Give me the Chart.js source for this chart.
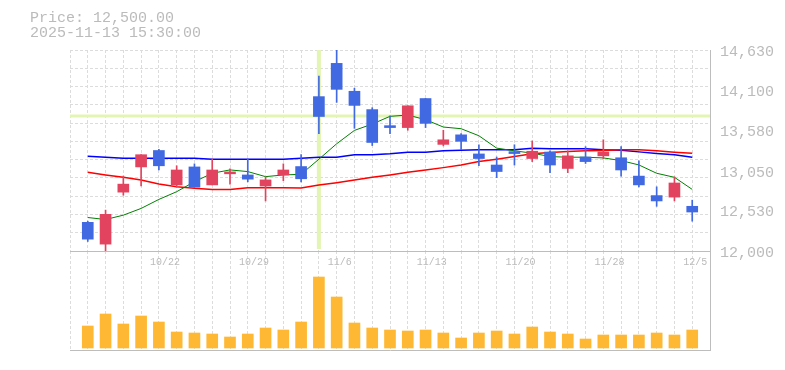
<!DOCTYPE html>
<html>
<head>
<meta charset="utf-8">
<script src="https://cdn.jsdelivr.net/npm/chart.js@4/dist/chart.umd.min.js"></script>
<style>
  body { margin: 0; background: #fff; }
  #wrap { position: relative; width: 785px; height: 370px; }
  #info { position: absolute; left: 30px; top: 11px; font: 15px/15px "Liberation Mono", monospace; color: #bbb; white-space: pre; }
  #price { position: absolute; left: 0; top: 0; }
  #volume { position: absolute; left: 0; top: 251px; }
</style>
</head>
<body>
<div id="wrap">
  <canvas id="volume" width="785" height="100"></canvas>
  <canvas id="price" width="785" height="270"></canvas>
  <div id="info"></div>
</div>
<script>
// trading days shown on the chart
const dates = ['10/16','10/17','10/20','10/21','10/22','10/23','10/24','10/27','10/28','10/29',
  '10/30','10/31','11/4','11/5','11/6','11/7','11/10','11/11','11/12','11/13',
  '11/14','11/17','11/18','11/19','11/20','11/21','11/25','11/26','11/27','11/28',
  '12/1','12/2','12/3','12/4','12/5'];

const opens  = [12375,12090,12770,13100,13315,12865,13100,12865,13010,12995,
  12850,12995,13105,14020,14455,14090,13850,13640,13615,13995,
  13395,13520,13270,13125,13300,13210,13295,13080,13230,13245,
  13220,12980,12725,12705,12585];
const highs  = [12390,12535,12980,13260,13330,13115,13140,13205,13075,13205,
  12970,13140,13260,14290,14630,14130,13875,13770,13900,13995,
  13580,13535,13390,13230,13390,13440,13310,13310,13365,13455,
  13365,13180,12840,12970,12665];
const lows   = [12125,12000,12730,12850,13060,12835,12835,12865,12875,12905,
  12655,12920,12905,13535,13945,13605,13380,13535,13580,13615,
  13375,13325,13115,12960,13125,13170,13025,13025,13145,13205,
  12980,12840,12585,12655,12390];
const closes = [12155,12480,12875,13260,13115,13060,12835,13060,13035,12940,
  12930,13060,12945,13760,14115,13905,13420,13615,13900,13670,
  13455,13435,13210,13040,13275,13305,13125,13245,13170,13295,
  13060,12865,12655,12890,12510];

// moving averages
const maShort = [12438,12412,12469,12557,12675,12776,12907,13017,13061,13039,
  12973,12995,13004,13201,13403,13578,13661,13762,13779,13718,
  13622,13600,13508,13346,13311,13280,13236,13227,13227,13218,
  13183,13126,13017,12964,12806];
const maMid = [13030,12995,12964,12929,12877,12842,12820,12806,12806,12828,
  12828,12828,12824,12863,12894,12929,12964,12995,13030,13061,
  13091,13126,13170,13201,13236,13271,13289,13302,13311,13315,
  13324,13324,13311,13293,13280];
const maLong = [13240,13227,13214,13214,13214,13214,13214,13201,13201,13201,
  13201,13201,13214,13227,13227,13258,13258,13271,13293,13293,
  13311,13319,13324,13324,13324,13346,13337,13337,13337,13324,
  13319,13297,13275,13258,13227];

// volume (shares)
const volumes = [22000,34000,24000,32000,26000,16000,15000,14000,11000,14000,
  20000,18000,26000,71000,51000,25000,20000,18000,17000,18000,
  15000,10000,15000,17000,14000,21000,16000,14000,9000,13000,
  13000,13000,15000,13000,18000];

const priceMin = 12000, priceMax = 14630;
const priceTicks = [12000, 12530, 13050, 13580, 14100, 14630];
const volMin = -2000, volMax = 97000;

// crosshair
const crossIndex = 13;
const crossPrice = 13765;
const infoLines = ['Price: 12,500.00', '2025-11-13 15:30:00'];

document.getElementById('info').textContent = infoLines.join('\n');

const UP = '#e2445f', DOWN = '#4169e1';
const candleColors = closes.map((c, i) => c >= opens[i] ? UP : DOWN);
const GRID = '#dcdcdc', AXIS = '#bdbdbd', TEXT = '#bbb';
const FONT = 'Liberation Mono';

Chart.defaults.font.family = FONT;
Chart.defaults.animation = false;

const n = dates.length;
const boundaries = [];
for (let i = 0; i <= n; i++) boundaries.push({ value: i - 0.5 });

function xAxis(showLabels) {
  return {
    type: 'linear', min: -0.5, max: n - 0.5,
    afterBuildTicks: s => { s.ticks = boundaries.map(b => ({ value: b.value })); },
    afterFit: s => { s.height = showLabels ? 19 : 1; },
    ticks: {
      display: showLabels, autoSkip: false, maxRotation: 0, align: 'start', padding: 5,
      color: TEXT, font: { family: FONT, size: 10 },
      callback: v => {
        const i = Math.round(v + 0.5);
        return i < n && (n - 1 - i) % 5 === 0 ? dates[i] : '';
      }
    },
    grid: { color: GRID, drawTicks: false },
    border: { display: true, color: AXIS, width: 1, dash: [3, 2] }
  };
}

const pts = arr => arr.map((v, i) => ({ x: i, y: v }));

const crosshair = {
  id: 'crosshair',
  beforeDatasetsDraw(chart) {
    const { ctx, chartArea: a, scales } = chart;
    const cx = scales.x.getPixelForValue(crossIndex);
    const cy = scales.y.getPixelForValue(crossPrice);
    ctx.save();
    ctx.strokeStyle = '#e3f5b3';
    ctx.lineWidth = 4;
    ctx.beginPath(); ctx.moveTo(cx, a.top); ctx.lineTo(cx, a.bottom - 2); ctx.stroke();
    ctx.lineWidth = 3;
    ctx.beginPath(); ctx.moveTo(a.left, cy); ctx.lineTo(a.right, cy); ctx.stroke();
    ctx.restore();
  }
};

new Chart(document.getElementById('price'), {
  data: {
    datasets: [
      { type: 'bar', label: 'body', yAxisID: 'y', grouped: false, barThickness: 11, minBarLength: 1,
        data: opens.map((o, i) => ({ x: i, y: [o, closes[i]] })),
        backgroundColor: candleColors },
      { type: 'bar', label: 'wick', yAxisID: 'y', grouped: false, barThickness: 1,
        data: highs.map((h, i) => ({ x: i, y: [lows[i], h] })),
        backgroundColor: candleColors },
      { type: 'line', label: 'MA short', yAxisID: 'y', data: pts(maShort),
        borderColor: '#008000', borderWidth: 1, pointRadius: 0, tension: 0 },
      { type: 'line', label: 'MA mid', yAxisID: 'y', data: pts(maMid),
        borderColor: '#ff0000', borderWidth: 1.5, pointRadius: 0, tension: 0 },
      { type: 'line', label: 'MA long', yAxisID: 'y', data: pts(maLong),
        borderColor: '#0000ff', borderWidth: 1.5, pointRadius: 0, tension: 0 }
    ]
  },
  options: {
    responsive: false,
    layout: { padding: { left: 70, top: 50, right: 0, bottom: 0 } },
    plugins: { legend: { display: false }, tooltip: { enabled: false } },
    scales: {
      x: xAxis(true),
      y: {
        type: 'linear', position: 'right', min: priceMin, max: priceMax,
        afterBuildTicks: s => { s.ticks = priceTicks.map(v => ({ value: v })); },
        afterFit: s => { s.width = 75; },
        ticks: { color: TEXT, font: { family: FONT, size: 15 }, padding: 10, labelOffset: 2,
          callback: v => v.toLocaleString('en-US') },
        grid: { display: false, drawTicks: false },
        border: { display: true, color: AXIS, width: 1 }
      },
      yg: {
        type: 'linear', position: 'left', min: 0, max: 11,
        afterFit: s => { s.width = 0; },
        ticks: { display: false, stepSize: 1 },
        grid: { color: GRID, drawTicks: false },
        border: { display: false, dash: [3, 2] }
      }
    }
  },
  plugins: [crosshair]
});

new Chart(document.getElementById('volume'), {
  type: 'bar',
  data: {
    datasets: [{
      label: 'volume', yAxisID: 'y', barThickness: 11,
      data: pts(volumes), backgroundColor: '#ffb833'
    }]
  },
  options: {
    responsive: false,
    layout: { padding: { left: 70, top: 0, right: 0, bottom: 0 } },
    plugins: { legend: { display: false }, tooltip: { enabled: false } },
    scales: {
      x: xAxis(false),
      y: {
        type: 'linear', position: 'right', min: volMin, max: volMax,
        afterFit: s => { s.width = 75; },
        ticks: { display: false },
        grid: { display: false, drawTicks: false },
        border: { display: true, color: AXIS, width: 1 }
      }
    }
  }
});
</script>
</body>
</html>
